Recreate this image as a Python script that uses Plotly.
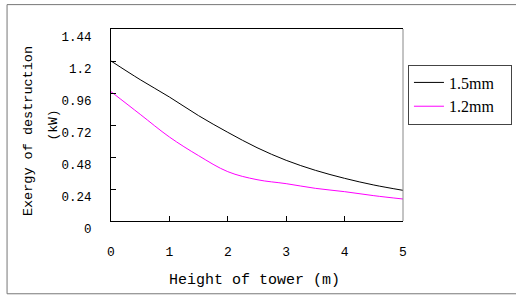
import plotly.graph_objects as go

height_m = [0, 0.5, 1, 1.5, 2, 2.5, 3, 3.5, 4, 4.5, 5]
exergy_15mm = [1.20, 1.06, 0.93, 0.79, 0.665, 0.55, 0.455, 0.38, 0.32, 0.27, 0.23]
exergy_12mm = [0.97, 0.80, 0.63, 0.49, 0.37, 0.31, 0.28, 0.245, 0.22, 0.19, 0.165]
y_ticks = [0, 0.24, 0.48, 0.72, 0.96, 1.2, 1.44]
y_tick_labels = ["0", "0.24", "0.48", "0.72", "0.96", "1.2", "1.44"]
x_ticks = [0, 1, 2, 3, 4, 5]
series_names = ["1.5mm" + "\u00a0" * 3, "1.2mm" + "\u00a0" * 3]

mono = "Liberation Mono"
serif = "Liberation Serif"

fig = go.Figure()
fig.add_trace(go.Scatter(x=height_m, y=exergy_15mm, mode="lines", name=series_names[0],
                         line=dict(color="#000000", width=1, shape="spline")))
fig.add_trace(go.Scatter(x=height_m, y=exergy_12mm, mode="lines", name=series_names[1],
                         line=dict(color="#ff00ff", width=1, shape="spline")))

fig.update_layout(
    width=516, height=296,
    margin=dict(l=111, r=113, t=29, b=75, autoexpand=False),
    paper_bgcolor="white", plot_bgcolor="white",
    showlegend=True,
    legend=dict(x=1.017, y=0.815, xanchor="left", yanchor="top",
                bordercolor="#444444", borderwidth=1, bgcolor="white",
                font=dict(family=serif, size=16, color="black"),
                tracegroupgap=0),
    xaxis=dict(range=[0, 5], tickvals=x_ticks, showgrid=False, zeroline=False,
               showline=True, linecolor="black", linewidth=1, mirror=True,
               ticks="inside", ticklen=5, tickcolor="black",
               ticklabelstandoff=18,
               tickfont=dict(family=mono, size=13, color="black")),
    yaxis=dict(range=[0, 1.44], tickvals=y_ticks, ticktext=y_tick_labels,
               showgrid=False, zeroline=False,
               showline=True, linecolor="black", linewidth=1,
               ticks="inside", ticklen=5, tickcolor="black",
               ticklabelstandoff=16, ticklabelshift=8,
               tickfont=dict(family=mono, size=12.5, color="black")),
    shapes=[
        dict(type="line", xref="paper", yref="paper", x0=1, x1=1, y0=0, y1=1,
             line=dict(color="#888888", width=1)),
        dict(type="rect", xref="paper", yref="paper", x0=-0.356, x1=1.389,
             y0=-0.379, y1=1.127, line=dict(color="#777777", width=1)),
    ],
    annotations=[
        dict(text="Height of tower (m)", xref="paper", yref="paper",
             x=0.49, y=-0.31, showarrow=False, xanchor="center", yanchor="middle",
             font=dict(family=mono, size=15, color="black")),
        dict(text="Exergy of destruction", xref="paper", yref="paper",
             x=-0.283, y=0.47, showarrow=False, textangle=-90,
             xanchor="center", yanchor="middle",
             font=dict(family=mono, size=13.5, color="black")),
        dict(text="(kW)", xref="paper", yref="paper",
             x=-0.2, y=0.50, showarrow=False, textangle=-90,
             xanchor="center", yanchor="middle",
             font=dict(family=mono, size=13, color="black")),
    ],
)

fig.write_html("out.html", config={"displayModeBar": False},
               post_script="document.body.style.margin='0';document.body.style.overflow='hidden';")
